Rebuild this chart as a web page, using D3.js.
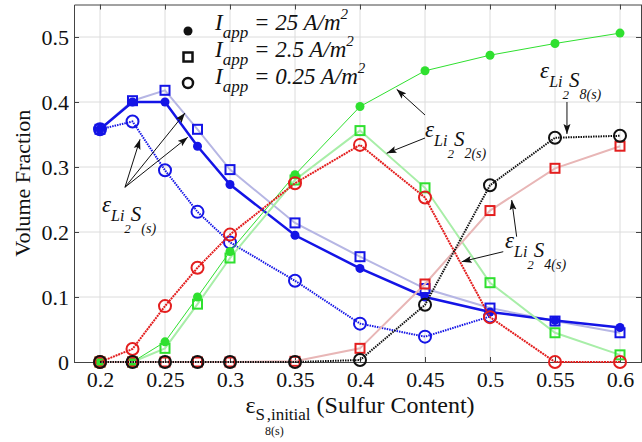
<!DOCTYPE html>
<html>
<head>
<meta charset="utf-8">
<script src="https://cdn.jsdelivr.net/npm/d3@7"></script>
<style>
body { margin: 0; background: #fff; }
svg { display: block; }
svg text { font-family: "Liberation Serif", "Times New Roman", serif; }
</style>
</head>
<body>
<div id="chart"></div>
<script>
const width = 642, height = 442;

// sulfur content (x) and volume fractions
const xVals = [0.2, 0.225, 0.25, 0.275, 0.3, 0.35, 0.4, 0.45, 0.5, 0.55, 0.6];
const xTicks = [0.2, 0.25, 0.3, 0.35, 0.4, 0.45, 0.5, 0.55, 0.6];
const yTicks = [0, 0.1, 0.2, 0.3, 0.4, 0.5];

const li2sHigh = [0.358, 0.400, 0.400, 0.332, 0.273, 0.195, 0.144, 0.100, 0.077, 0.064, 0.053];
const li2sMid  = [0.358, 0.402, 0.418, 0.358, 0.296, 0.214, 0.162, 0.113, 0.083, 0.063, 0.045];
const li2sLow  = [0.358, 0.370, 0.295, 0.231, 0.184, 0.125, 0.059, 0.039, 0.070];
const li2s2High = [0, 0, 0.031, 0.100, 0.170, 0.288, 0.393, 0.448, 0.472, 0.490, 0.506];
const li2s2Mid  = [0, 0, 0.021, 0.089, 0.160, 0.280, 0.356, 0.268, 0.122, 0.045, 0.011];
const li2s4Mid  = [0, 0, 0, 0, 0, 0.001, 0.021, 0.120, 0.233, 0.298, 0.332];
const li2s4Low  = [0, 0.020, 0.086, 0.145, 0.196, 0.275, 0.334, 0.253, 0.069, 0, 0];
const li2s8Low  = [0, 0, 0, 0, 0, 0, 0.003, 0.088, 0.272, 0.345, 0.348];

const legendLabels = ["= 25 A/m", "= 2.5 A/m", "= 0.25 A/m"];

const serif = '"Liberation Serif", "Times New Roman", serif';

var svg = d3.select("#chart")
    .append("svg")
    .attr("width", width)
    .attr("height", height)
    .attr("font-family", serif);

x = d3.scaleLinear().domain([0.18, 0.62]).range([74, 646]);
y = d3.scaleLinear().domain([0, 0.55]).range([362, 4.5]);

// grid
svg.append("g").selectAll("line").data(xTicks).enter().append("line")
    .attr("x1", d => x(d)).attr("x2", d => x(d))
    .attr("y1", y(0)).attr("y2", y(0.55))
    .style("stroke", "#dcdcdc").style("stroke-width", 1);
svg.append("g").selectAll("line").data(yTicks.slice(1)).enter().append("line")
    .attr("x1", x(0.18)).attr("x2", x(0.62))
    .attr("y1", d => y(d)).attr("y2", d => y(d))
    .style("stroke", "#dcdcdc").style("stroke-width", 1);

// box axes, ticks pointing inward
const xAxis = svg.append("g").attr("transform", `translate(0,${y(0)})`)
    .call(d3.axisBottom(x).tickValues(xTicks).tickSize(-5).tickPadding(9).tickSizeOuter(0).tickFormat(d3.format("")));
const yAxis = svg.append("g").attr("transform", `translate(${x(0.18)},0)`)
    .call(d3.axisLeft(y).tickValues(yTicks).tickSize(-5).tickPadding(5).tickSizeOuter(0).tickFormat(d3.format("")));
svg.append("g").attr("transform", `translate(0,${y(0.55)})`)
    .call(d3.axisTop(x).tickValues(xTicks).tickSize(-5).tickSizeOuter(0).tickFormat(""));
svg.append("g").attr("transform", `translate(${x(0.62) - 5},0)`)
    .call(d3.axisRight(y).tickValues(yTicks.slice(1)).tickSize(-5).tickSizeOuter(0).tickFormat(""));
[xAxis, yAxis].forEach(a => a.attr("font-family", serif).attr("font-size", 22));
svg.selectAll(".domain").style("stroke", "#444");
svg.selectAll(".tick line").style("stroke", "#444");
svg.selectAll(".tick text").style("fill", "#111");

// series
const blue = "#1414e6", green = "#2fe02f", red = "#e31e1e", black = "#111";
const series = [
    {values: li2sMid, line: "#b6b6e4", lw: 2, color: blue, mark: "square"},
    {values: li2sHigh, line: blue, lw: 2.5, color: blue, mark: "dot"},
    {values: li2sLow, line: blue, lw: 2, dash: "1.5,1", color: blue, mark: "circle"},
    {values: li2s2Mid, line: "#a8eea8", lw: 2, color: green, mark: "square"},
    {values: li2s2High, line: green, lw: 1, color: green, mark: "dot"},
    {values: li2s4Mid, line: "#e8b6b6", lw: 2, color: red, mark: "square"},
    {values: li2s4Low, line: red, lw: 2, dash: "2,0.8", color: red, mark: "circle"},
    {values: li2s8Low, line: black, lw: 2, dash: "1.5,1", color: black, mark: "circle"}
];

const line = d3.line().x(d => x(d[0])).y(d => y(d[1]));

function drawMarks(g, pts, s) {
    if (s.mark === "dot") {
        g.selectAll("circle").data(pts).enter().append("circle")
            .attr("cx", d => x(d[0])).attr("cy", d => y(d[1])).attr("r", 4.5)
            .style("fill", s.color);
    } else if (s.mark === "circle") {
        g.selectAll("circle").data(pts).enter().append("circle")
            .attr("cx", d => x(d[0])).attr("cy", d => y(d[1])).attr("r", 6)
            .style("fill", "none").style("stroke", s.color).style("stroke-width", 2);
    } else {
        g.selectAll("rect").data(pts).enter().append("rect")
            .attr("x", d => x(d[0]) - 4.5).attr("y", d => y(d[1]) - 4.5)
            .attr("width", 9).attr("height", 9)
            .style("fill", "none").style("stroke", s.color).style("stroke-width", 2);
    }
}

series.forEach(s => {
    const pts = s.values.map((v, i) => [xVals[i], v]);
    const g = svg.append("g");
    g.append("path").datum(pts)
        .attr("d", line)
        .style("fill", "none")
        .style("stroke", s.line)
        .style("stroke-width", s.lw)
        .style("stroke-dasharray", s.dash || null);
    drawMarks(g, pts, s);
});

// annotation arrows (data units)
const arrows = [
    [[0.2192, 0.2688], [0.2308, 0.3426]],
    [[0.2192, 0.2688], [0.2654, 0.3831]],
    [[0.2192, 0.2688], [0.2675, 0.3457]],
    [[0.45, 0.38], [0.4282, 0.4195]],
    [[0.45, 0.3446], [0.4205, 0.3211]],
    [[0.5592, 0.40], [0.5592, 0.3508]],
    [[0.5205, 0.1928], [0.5167, 0.2492]],
    [[0.5102, 0.1697], [0.4782, 0.1543]]
];

svg.append("defs").append("marker")
    .attr("id", "head")
    .attr("markerUnits", "userSpaceOnUse")
    .attr("viewBox", "0 -4 10 8")
    .attr("refX", 10).attr("refY", 0)
    .attr("markerWidth", 10).attr("markerHeight", 8)
    .attr("orient", "auto")
    .append("path").attr("d", "M0,-3.5L10,0L0,3.5L2,0Z").style("fill", "#111");

svg.append("g").selectAll("line").data(arrows).enter().append("line")
    .attr("x1", d => x(d[0][0])).attr("y1", d => y(d[0][1]))
    .attr("x2", d => x(d[1][0])).attr("y2", d => y(d[1][1]))
    .style("stroke", "#111").style("stroke-width", 1)
    .attr("marker-end", "url(#head)");

// epsilon labels
const epsLabels = [
    {at: [0.2015, 0.2308], sub: "(s)"},
    {at: [0.45, 0.3462], sub: "2(s)"},
    {at: [0.5385, 0.4369], sub: "8(s)"},
    {at: [0.5115, 0.1754], sub: "4(s)"}
];

epsLabels.forEach(l => {
    const t = svg.append("text")
        .attr("x", x(l.at[0])).attr("y", y(l.at[1]))
        .style("font-style", "italic").style("fill", "#111");
    t.append("tspan").style("font-size", "23px").text("ε");
    t.append("tspan").style("font-size", "16px").attr("dy", 9).text("Li");
    t.append("tspan").style("font-size", "13px").attr("dy", 12).text("2");
    t.append("tspan").style("font-size", "21px").attr("dy", -12).text("S");
    t.append("tspan").style("font-size", "14px").attr("dy", 12).text(l.sub);
});

// legend
const legendMarks = ["dot", "square", "circle"];
legendLabels.forEach((lab, i) => {
    const by = 30 + i * 27;
    const g = svg.append("g");
    drawMarks(g, [[x.invert(188), y.invert(by + 1 - i)]], {mark: legendMarks[i], color: "#111"});
    g.selectAll("circle,rect").style("stroke-width", legendMarks[i] === "dot" ? null : 2.5)
        .attr("r", legendMarks[i] === "circle" ? 5 : 4.5);
    const t = g.append("text").attr("x", 215).attr("y", by)
        .style("font-style", "italic").style("fill", "#111");
    t.append("tspan").style("font-size", "23px").text("I");
    t.append("tspan").style("font-size", "17px").attr("dy", 8).text("app");
    t.append("tspan").style("font-size", "23px").attr("dy", -8).text(" " + lab);
    t.append("tspan").style("font-size", "15px").attr("dy", -11).text("2");
});

// axis titles
svg.append("text")
    .attr("transform", `translate(30,${(y(0) + y(0.55)) / 2}) rotate(-90)`)
    .attr("text-anchor", "middle")
    .style("font-size", "22px").style("fill", "#111")
    .text("Volume Fraction");

const xt = svg.append("text")
    .attr("x", (x(0.18) + x(0.62)) / 2).attr("y", 413)
    .attr("text-anchor", "middle").style("fill", "#111");
xt.append("tspan").style("font-size", "24px").text("ε");
xt.append("tspan").style("font-size", "17px").attr("dy", 7).text("S");
xt.append("tspan").style("font-size", "12px").attr("dy", 15).text("8(s)");
xt.append("tspan").style("font-size", "17px").attr("dy", -15).attr("dx", -17).text(",initial");
xt.append("tspan").style("font-size", "24px").attr("dy", -7).text(" (Sulfur Content)");
</script>
</body>
</html>
